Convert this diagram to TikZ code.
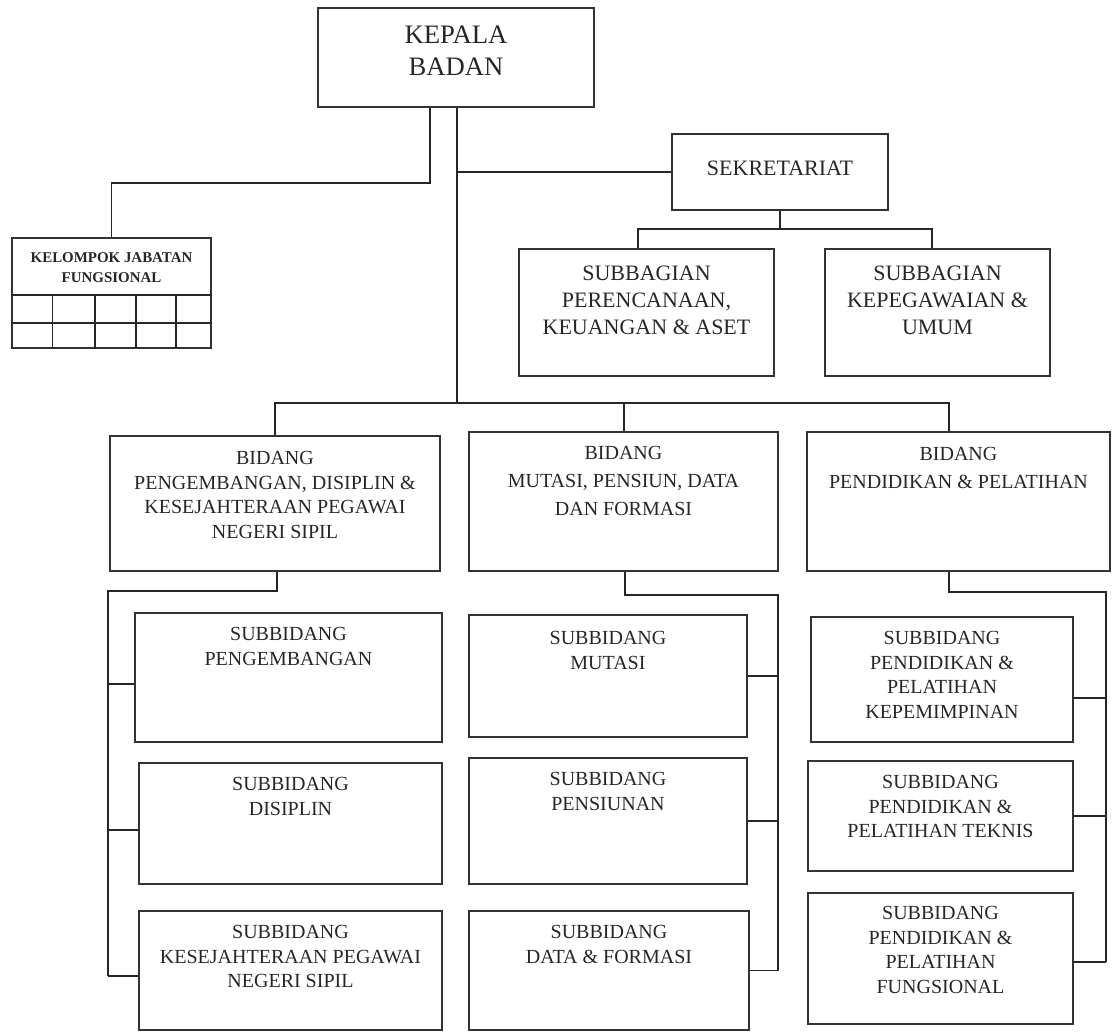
\documentclass[tikz,border=0pt]{standalone}
\usepackage{fontspec}
\setmainfont{Liberation Serif}
\usetikzlibrary{fit,calc}

\begin{document}
\begin{tikzpicture}[x=0.75pt,y=-0.75pt,
  box/.style={draw=black!80,line width=1.5pt,inner sep=0pt},
  link/.style={draw=black!85,line width=1.3pt},
  lbl/.style={anchor=north,align=center,inner sep=0pt,text=black!85},
  fsub/.style={font=\fontsize{15pt}{18.4pt}\selectfont},
  fbid/.style={font=\fontsize{15pt}{21pt}\selectfont},
  fsek/.style={font=\fontsize{16.5pt}{20.25pt}\selectfont}]

\useasboundingbox (0,0) rectangle (1115,1033);

% ---- boxes ----
\node[box,fit={(318,8) (594,107)}] (kepala) {};
\node[box,fit={(672,134) (888,210)}] (sek) {};
\node[box,fit={(519,249) (774,376)}] (sub1) {};
\node[box,fit={(825,249) (1050,376)}] (sub2) {};
\node[box,fit={(12,238) (211,348)}] (kjf) {};
\node[box,fit={(110,436) (440,571)}] (b1) {};
\node[box,fit={(469,432) (778,571)}] (b2) {};
\node[box,fit={(807,432) (1110,571)}] (b3) {};
\node[box,fit={(135,613) (442,742)}] (s11) {};
\node[box,fit={(139,763) (442,884)}] (s12) {};
\node[box,fit={(139,911) (442,1030)}] (s13) {};
\node[box,fit={(469,615) (747,737)}] (s21) {};
\node[box,fit={(469,758) (747,884)}] (s22) {};
\node[box,fit={(469,911) (749,1030)}] (s23) {};
\node[box,fit={(811,617) (1073,742)}] (s31) {};
\node[box,fit={(808,761) (1073,871)}] (s32) {};
\node[box,fit={(808,893) (1073,1024)}] (s33) {};

% ---- texts ----
\node[lbl,font=\fontsize{20pt}{23.5pt}\selectfont] (tkepala) at ($(kepala.north)+(0,19)$) {KEPALA\\BADAN};
\node[lbl,fsek] (tsek) at ($(sek.north)+(0,28)$) {SEKRETARIAT};
\node[lbl,fsek] (tsub1) at ($(sub1.north)+(0,18)$) {SUBBAGIAN\\PERENCANAAN,\\KEUANGAN \& ASET};
\node[lbl,fsek] (tsub2) at ($(sub2.north)+(0,18)$) {SUBBAGIAN\\KEPEGAWAIAN \&\\UMUM};
\node[lbl,font=\fontsize{11.2pt}{15pt}\selectfont\bfseries] (tkjf) at ($(kjf.north)+(0,15)$) {KELOMPOK JABATAN\\FUNGSIONAL};
\node[lbl,fsub] (tb1) at ($(b1.north)+(0,16)$) {BIDANG\\PENGEMBANGAN, DISIPLIN \&\\KESEJAHTERAAN PEGAWAI\\NEGERI SIPIL};
\node[lbl,fbid] (tb2) at ($(b2.north)+(0,15)$) {BIDANG\\MUTASI, PENSIUN, DATA\\DAN FORMASI};
\node[lbl,fbid] (tb3) at ($(b3.north)+(0,16)$) {BIDANG\\PENDIDIKAN \& PELATIHAN};
\node[lbl,fsub] (ts11) at ($(s11.north)+(0,15)$) {SUBBIDANG\\PENGEMBANGAN};
\node[lbl,fsub] (ts12) at ($(s12.north)+(0,15)$) {SUBBIDANG\\DISIPLIN};
\node[lbl,fsub] (ts13) at ($(s13.north)+(0,15)$) {SUBBIDANG\\KESEJAHTERAAN PEGAWAI\\NEGERI SIPIL};
\node[lbl,fsub] (ts21) at ($(s21.north)+(0,17)$) {SUBBIDANG\\MUTASI};
\node[lbl,fsub] (ts22) at ($(s22.north)+(0,15)$) {SUBBIDANG\\PENSIUNAN};
\node[lbl,fsub] (ts23) at ($(s23.north)+(0,15)$) {SUBBIDANG\\DATA \& FORMASI};
\node[lbl,fsub] (ts31) at ($(s31.north)+(0,15)$) {SUBBIDANG\\PENDIDIKAN \&\\PELATIHAN\\KEPEMIMPINAN};
\node[lbl,fsub] (ts32) at ($(s32.north)+(0,15)$) {SUBBIDANG\\PENDIDIKAN \&\\PELATIHAN TEKNIS};
\node[lbl,fsub] (ts33) at ($(s33.north)+(0,14)$) {SUBBIDANG\\PENDIDIKAN \&\\PELATIHAN\\FUNGSIONAL};

% ---- grid of the functional group table ----
\draw[link] (kjf.west |- 0,295) -- (kjf.east |- 0,295);
\draw[link] (kjf.west |- 0,323) -- (kjf.east |- 0,323);
\foreach \cx in {52.5,95,136,176}
  \draw[link] (\cx,295) -- (kjf.south -| \cx,0);

% ---- routing points ----
\coordinate (kj) at (430,183);
\coordinate (sp) at (457,403);
\coordinate (sL) at (638,229);
\coordinate (sR) at (932,229);
\coordinate (bL) at (275,403);
\coordinate (bM) at (624,403);
\coordinate (bR) at (949,403);
\coordinate (c1) at (277,591);
\coordinate (v1) at (108,591);
\coordinate (t11) at (108,684);
\coordinate (t12) at (108,830);
\coordinate (t13) at (108,976);
\coordinate (c2) at (625,595);
\coordinate (v2) at (778,595);
\coordinate (c3) at (949,592);
\coordinate (v3) at (1106,592);
\coordinate (t31) at (1106,698);
\coordinate (t33) at (1106,962);

% ---- connectors ----
\draw[link] (kepala.south -| kj) -- (kj) -| (kjf.north);
\draw[link] (kepala.south -| sp) -- (sp);
\draw[link] (sek.west -| sp) -- (sek.west);
\draw[link] (sek.south) -- (sek.south |- sL);
\draw[link] (sub1.north -| sL) -- (sL) -- (sR) -- (sub2.north -| sR);
\draw[link] (b1.north -| bL) -- (bL) -- (bR) -- (b3.north -| bR);
\draw[link] (bM) -- (b2.north -| bM);

\draw[link] (b1.south -| c1) -- (c1) -- (v1) -- (t13);
\draw[link] (t11) -- (t11 -| s11.west);
\draw[link] (t12) -- (t12 -| s12.west);
\draw[link] (t13) -- (t13 -| s13.west);

\draw[link] (b2.south -| c2) -- (c2) -- (v2) -- (v2 |- s23.east);
\draw[link] (s21.east) -- (s21.east -| v2);
\draw[link] (s22.east) -- (s22.east -| v2);
\draw[link] (s23.east) -- (s23.east -| v2);

\draw[link] (b3.south -| c3) -- (c3) -- (v3) -- (t33);
\draw[link] (t31) -- (t31 -| s31.east);
\draw[link] (s32.east) -- (s32.east -| v3);
\draw[link] (t33) -- (t33 -| s33.east);
\end{tikzpicture}
\end{document}
